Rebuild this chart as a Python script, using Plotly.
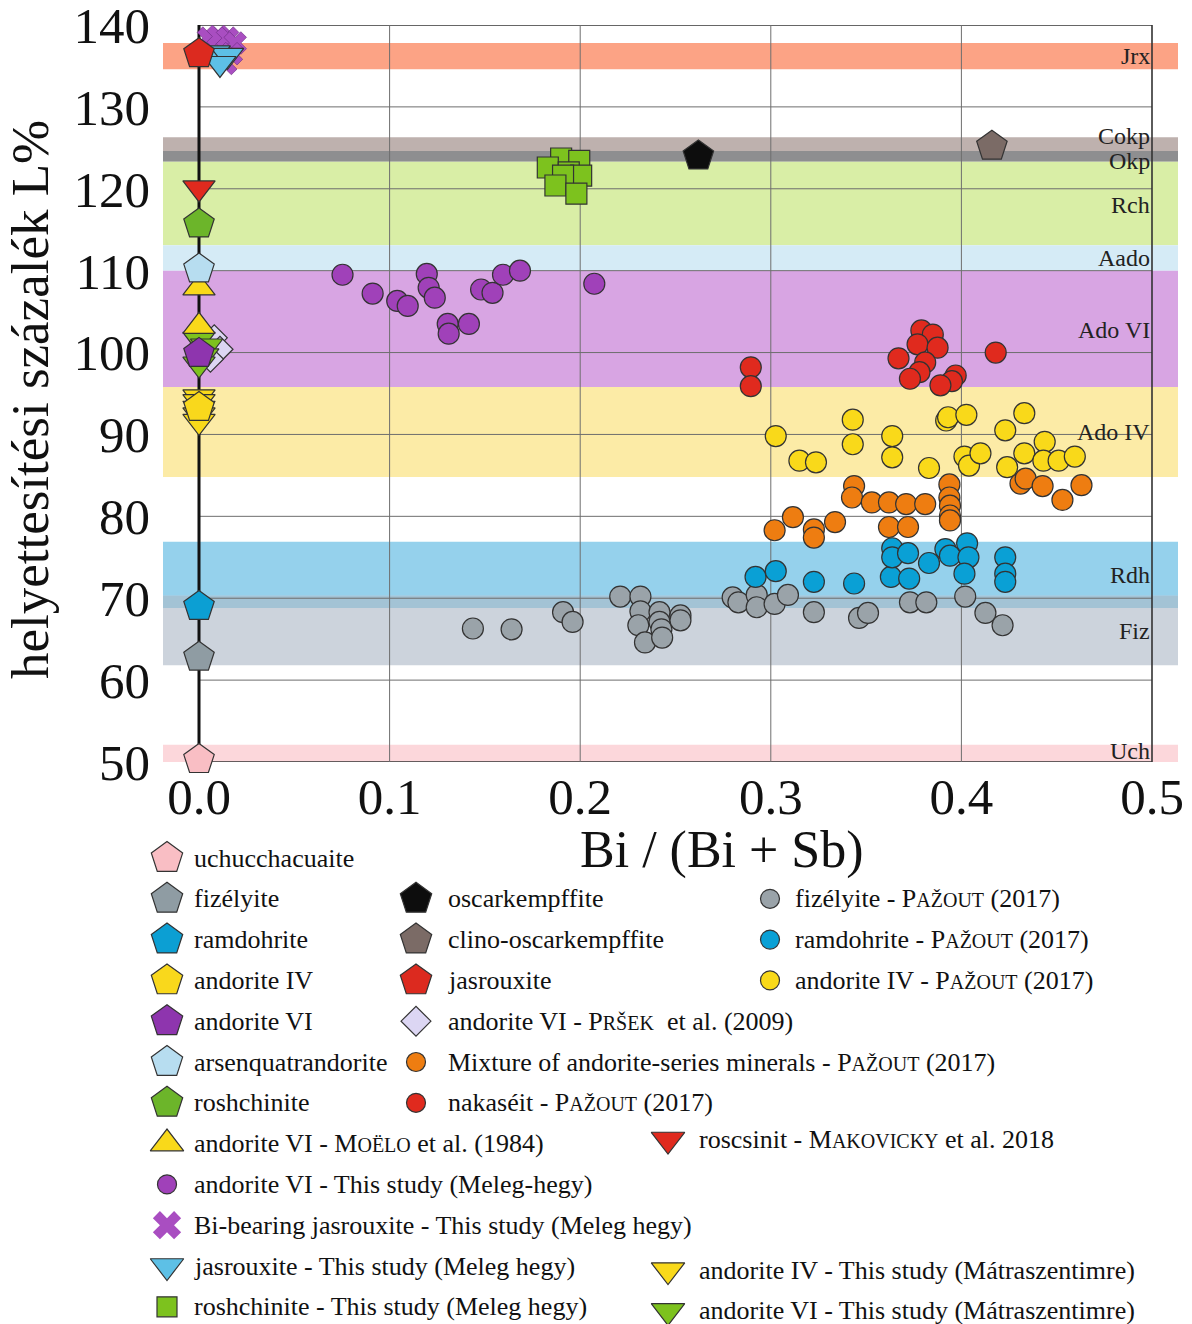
import plotly.graph_objects as go

FONT = "Liberation Serif"
W, H = 1192, 1324

# ---------------- data ----------------
# reference end-members (pentagons)
uch_x, uch_y = [0.0], [50.3]
fiz_x, fiz_y = [0.0], [62.8]
ramd_x, ramd_y = [0.0], [69.0]
and4_x, and4_y = [0.0], [93.3]
and6_x, and6_y = [0.0], [99.9]
arsen_x, arsen_y = [0.0], [110.2]
rosh_x, rosh_y = [0.0], [115.7]
oscar_x, oscar_y = [0.262], [124.0]
clino_x, clino_y = [0.416], [125.2]
jas_x, jas_y = [0.0], [136.5]

# literature / this study
moelo_x = [0.0, 0.0]
moelo_y = [107.9, 103.2]
prsek_x = [0.002, 0.008, 0.011, 0.006]
prsek_y = [101.0, 101.8, 100.4, 99.2]
makov_x = [0.0]
makov_y = [120.1]
mat4_x = [0.0, 0.0, 0.0, 0.0, 0.0]
mat4_y = [94.6, 94.0, 93.2, 92.4, 91.6]
mat6_x = [0.0, 0.004, 0.002, 0.0]
mat6_y = [101.6, 100.8, 99.6, 98.6]
jasts_x = [0.008, 0.012, 0.015, 0.011]
jasts_y = [136.6, 136.0, 136.3, 135.3]
bijas_x = [0.005, 0.010, 0.015, 0.019, 0.017, 0.014]
bijas_y = [138.4, 138.6, 138.4, 137.8, 136.5, 135.3]
roshts_x = [0.190, 0.1995, 0.183, 0.194, 0.2005, 0.191, 0.187, 0.198]
roshts_y = [123.7, 123.4, 122.6, 122.0, 121.6, 121.6, 120.4, 119.4]
and6ts_x = [0.0753, 0.0911, 0.104, 0.1095, 0.1195, 0.1205, 0.1237, 0.1305,
            0.131, 0.1416, 0.148, 0.154, 0.1595, 0.1684, 0.2074]
and6ts_y = [109.5, 107.2, 106.3, 105.7, 109.6, 107.9, 106.7, 103.5,
            102.3, 103.5, 107.7, 107.3, 109.5, 110.0, 108.4]

# PAŽOUT (2017)
pfiz_x = [0.1437, 0.164, 0.191, 0.196, 0.221, 0.2316, 0.2316, 0.2305, 0.234,
          0.2416, 0.2416, 0.2426, 0.243, 0.2526, 0.2526, 0.280, 0.283, 0.2926,
          0.2926, 0.302, 0.309, 0.3226, 0.3463, 0.351, 0.373, 0.3816, 0.402,
          0.4126, 0.4216]
pfiz_y = [66.3, 66.2, 68.3, 67.1, 70.2, 70.2, 68.4, 66.7, 64.6,
          68.3, 67.1, 66.2, 65.2, 67.9, 67.3, 70.1, 69.5, 70.4,
          68.9, 69.3, 70.4, 68.3, 67.6, 68.2, 69.5, 69.5, 70.2,
          68.2, 66.7]
pramd_x = [0.292, 0.3026, 0.3226, 0.3437, 0.363, 0.3726, 0.3637, 0.3637, 0.372,
           0.383, 0.3916, 0.394, 0.403, 0.4037, 0.4016, 0.423, 0.423, 0.423]
pramd_y = [72.6, 73.3, 72.0, 71.8, 72.6, 72.4, 76.1, 75.0, 75.5,
           74.3, 76.0, 75.2, 76.7, 75.0, 73.0, 75.0, 73.0, 72.0]
pand4_x = [0.3026, 0.315, 0.3237, 0.343, 0.343, 0.3637, 0.3637, 0.383, 0.392,
           0.393, 0.4026, 0.4016, 0.404, 0.410, 0.423, 0.433, 0.424, 0.433,
           0.4437, 0.443, 0.451, 0.4595]
pand4_y = [89.8, 86.8, 86.6, 91.8, 88.8, 89.8, 87.2, 85.9, 91.7,
           92.1, 92.4, 87.3, 86.2, 87.7, 90.5, 92.6, 86.0, 87.7,
           89.1, 86.8, 86.8, 87.3]
pmix_x = [0.302, 0.3116, 0.3226, 0.3226, 0.3337, 0.3437, 0.3426, 0.353, 0.362,
          0.371, 0.381, 0.362, 0.372, 0.3937, 0.3937, 0.394, 0.394, 0.394,
          0.431, 0.4337, 0.4426, 0.453, 0.463]
pmix_y = [78.3, 79.9, 78.4, 77.4, 79.3, 83.7, 82.3, 81.7, 81.7,
          81.5, 81.5, 78.7, 78.7, 83.9, 82.3, 81.3, 80.1, 79.5,
          84.0, 84.6, 83.7, 82.0, 83.8]
pnak_x = [0.2895, 0.2895, 0.367, 0.379, 0.385, 0.377, 0.3875, 0.381, 0.378,
          0.373, 0.397, 0.395, 0.389, 0.418]
pnak_y = [98.2, 95.9, 99.3, 102.7, 102.2, 101.0, 100.6, 98.8, 97.6,
          96.8, 97.2, 96.5, 96.0, 100.0]

# bands: name, low, high, label y
band_names = ["Jrx", "Cokp", "Okp", "Rch", "Aado", "Ado VI", "Ado IV", "Rdh", "Fiz", "Uch"]
band_lo = [134.6, 124.6, 123.3, 113.1, 110.0, 95.8, 84.8, 68.8, 61.8, 50.0]
band_hi = [137.8, 126.3, 124.6, 123.3, 113.1, 110.0, 95.8, 76.9, 70.3, 52.1]
band_label_y = [136.2, 126.4, 123.4, 118.0, 111.5, 102.8, 90.3, 72.8, 66.0, 51.3]
overlap_lo, overlap_hi = 68.8, 70.3

x_ticks = [0.0, 0.1, 0.2, 0.3, 0.4, 0.5]
x_tick_text = ["0.0", "0.1", "0.2", "0.3", "0.4", "0.5"]
y_ticks = [50, 60, 70, 80, 90, 100, 110, 120, 130, 140]

# ---------------- styles ----------------
band_colors = ["#FCA385", "#BEB1AE", "#8E8E90", "#D9EEA6", "#D5EBF6",
               "#D8A5E3", "#FCEBA6", "#95D1EC", "#CCD3DC", "#FCD7DB"]
overlap_color = "#A3C3D5"

OUT = "#333333"
series = [
    # key, x, y, symbol, color, size, label
    ("pfiz", pfiz_x, pfiz_y, "circle", "#9AA3A9", 21, "fizélyite - P<span style='font-size:20px'>AŽOUT</span> (2017)"),
    ("pramd", pramd_x, pramd_y, "circle", "#0AA0D5", 21, "ramdohrite - P<span style='font-size:20px'>AŽOUT</span> (2017)"),
    ("pand4", pand4_x, pand4_y, "circle", "#F9D91A", 21, "andorite IV - P<span style='font-size:20px'>AŽOUT</span> (2017)"),
    ("pmix", pmix_x, pmix_y, "circle", "#EE7D11", 21, "Mixture of andorite-series minerals - P<span style='font-size:20px'>AŽOUT</span> (2017)"),
    ("pnak", pnak_x, pnak_y, "circle", "#E02A1E", 21, "nakaséit - P<span style='font-size:20px'>AŽOUT</span> (2017)"),
    ("and6ts", and6ts_x, and6ts_y, "circle", "#A041B9", 21, "andorite VI - This study (Meleg-hegy)"),
    ("roshts", roshts_x, roshts_y, "square", "#7DC21E", 21, "roshchinite - This study (Meleg hegy)"),
    ("prsek", prsek_x, prsek_y, "diamond", "#DCD6F3", 20, "andorite VI - P<span style='font-size:20px'>RŠEK</span>  et al. (2009)"),
    ("mat6", mat6_x, mat6_y, "triangle-down", "#7DC21E", 28, "andorite VI - This study (Mátraszentimre)"),
    ("mat4", mat4_x, mat4_y, "triangle-down", "#F9D91A", 28, "andorite IV - This study (Mátraszentimre)"),
    ("bijas", bijas_x, bijas_y, "x", "#A94EC1", 20, "Bi-bearing jasrouxite - This study (Meleg hegy)"),
    ("jasts", jasts_x, jasts_y, "triangle-down", "#5DC0E6", 28, "jasrouxite - This study (Meleg hegy)"),
    ("moelo", moelo_x, moelo_y, "triangle-up", "#F9D91A", 28, "andorite VI - M<span style='font-size:20px'>OËLO</span> et al. (1984)"),
    ("makov", makov_x, makov_y, "triangle-down", "#E02A1E", 28, "roscsinit - M<span style='font-size:20px'>AKOVICKY</span> et al. 2018"),
    ("uch", uch_x, uch_y, "pentagon", "#F9BEC4", 32, "uchucchacuaite"),
    ("fiz", fiz_x, fiz_y, "pentagon", "#8F9CA3", 32, "fizélyite"),
    ("ramd", ramd_x, ramd_y, "pentagon", "#0C9FD3", 32, "ramdohrite"),
    ("and4", and4_x, and4_y, "pentagon", "#F9D81C", 32, "andorite IV"),
    ("and6", and6_x, and6_y, "pentagon", "#8E35AE", 32, "andorite VI"),
    ("arsen", arsen_x, arsen_y, "pentagon", "#B7DDF0", 32, "arsenquatrandorite"),
    ("rosh", rosh_x, rosh_y, "pentagon", "#6CB52A", 32, "roshchinite"),
    ("oscar", oscar_x, oscar_y, "pentagon", "#0D0D0D", 32, "oscarkempffite"),
    ("clino", clino_x, clino_y, "pentagon", "#7B6B66", 32, "clino-oscarkempffite"),
    ("jas", jas_x, jas_y, "pentagon", "#DC2A1F", 32, "jasrouxite"),
]

# legend layout: key -> (column, row)
col_marker_x = {1: 167, 2: 416, 3: 770, 4: 668}
col_text_x = {1: 192, 2: 446, 3: 793, 4: 697}
row0_y, row_step = 858, 40.8
legend_layout = {
    "uch": (1, 0), "fiz": (1, 1), "ramd": (1, 2), "and4": (1, 3), "and6": (1, 4),
    "arsen": (1, 5), "rosh": (1, 6), "moelo": (1, 7), "and6ts": (1, 8),
    "bijas": (1, 9), "jasts": (1, 10), "roshts": (1, 11),
    "oscar": (2, 1), "clino": (2, 2), "jas": (2, 3), "prsek": (2, 4),
    "pmix": (2, 5), "pnak": (2, 6),
    "pfiz": (3, 1), "pramd": (3, 2), "pand4": (3, 3),
    "makov": (4, 6.9), "mat4": (4, 10.1), "mat6": (4, 11.1),
}
legend_size = {"pentagon": 33, "circle": 19, "square": 20, "triangle-up": 29,
               "triangle-down": 29, "diamond": 23, "x": 25}

# ---------------- figure ----------------
x_lo = -(199 - 163) / 1906
x_hi = 0.5 + (1178 - 1152) / 1906

fig = go.Figure()

for key, xs, ys, sym, col, size, label in series:
    line = dict(color=OUT, width=1.2)
    if sym == "x":
        line = dict(color="#6A2A80", width=0.6)
    fig.add_trace(go.Scatter(
        x=xs, y=ys, mode="markers", showlegend=False, cliponaxis=False,
        marker=dict(symbol=sym, color=col, size=size, line=line),
        xaxis="x", yaxis="y", name=key))

# legend drawn manually
annotations = []
for key, xs, ys, sym, col, size, label in series:
    c, r = legend_layout[key]
    ly = row0_y + row_step * r
    line = dict(color=OUT, width=1.2)
    if sym == "x":
        line = dict(color="#A94EC1", width=0)
    fig.add_trace(go.Scatter(
        x=[col_marker_x[c]], y=[ly], mode="markers", showlegend=False,
        cliponaxis=False, hoverinfo="skip",
        marker=dict(symbol=sym, color=col, size=legend_size[sym], line=line),
        xaxis="x2", yaxis="y2"))
    annotations.append(dict(
        x=col_text_x[c], y=ly, xref="x2", yref="y2", text=label,
        showarrow=False, xanchor="left", yanchor="middle",
        font=dict(family=FONT, size=26, color="#111")))

shapes = []
for name, lo, hi, colr in zip(band_names, band_lo, band_hi, band_colors):
    shapes.append(dict(type="rect", xref="x domain", yref="y", x0=0, x1=1,
                       y0=lo, y1=hi, fillcolor=colr, line=dict(width=0),
                       layer="below"))
shapes.append(dict(type="rect", xref="x domain", yref="y", x0=0, x1=1,
                   y0=overlap_lo, y1=overlap_hi, fillcolor=overlap_color,
                   line=dict(width=0), layer="below"))
# grid
for yv in y_ticks:
    edge = yv in (y_ticks[0], y_ticks[-1])
    shapes.append(dict(type="line", xref="x", yref="y", x0=0, x1=0.5, y0=yv, y1=yv,
                       line=dict(color="#333" if edge else "#6E6E6E", width=1.6 if edge else 1),
                       layer="below"))
for xv in x_ticks[1:]:
    edge = xv == x_ticks[-1]
    shapes.append(dict(type="line", xref="x", yref="y", x0=xv, x1=xv, y0=50, y1=140,
                       line=dict(color="#333" if edge else "#6E6E6E", width=1.6 if edge else 1),
                       layer="below"))
shapes.append(dict(type="line", xref="x", yref="y", x0=0, x1=0, y0=50, y1=140,
                   line=dict(color="#111", width=3), layer="below"))

for name, ly in zip(band_names, band_label_y):
    annotations.append(dict(x=0.5, y=ly, xref="x", yref="y", text=name,
                            showarrow=False, xanchor="right", yanchor="middle",
                            font=dict(family=FONT, size=24, color="#222")))

annotations.append(dict(x=30 / W, y=1 - 400 / H, xref="paper", yref="paper",
                        text="helyettesítési százalék L%", textangle=-90,
                        showarrow=False, xanchor="center", yanchor="middle",
                        font=dict(family=FONT, size=53, color="#111")))
annotations.append(dict(x=722 / W, y=1 - 850 / H, xref="paper", yref="paper",
                        text="Bi / (Bi + Sb)", showarrow=False,
                        xanchor="center", yanchor="middle",
                        font=dict(family=FONT, size=52, color="#111")))

fig.update_layout(
    width=W, height=H,
    margin=dict(l=0, r=0, t=0, b=0, autoexpand=False),
    paper_bgcolor="white", plot_bgcolor="rgba(0,0,0,0)",
    showlegend=False,
    xaxis=dict(domain=[163 / W, 1178 / W], range=[x_lo, x_hi], tickvals=x_ticks,
               ticktext=x_tick_text, showgrid=False, zeroline=False, showline=False,
               ticks="", ticklabeloverflow="allow",
               tickfont=dict(family=FONT, size=51, color="#111"),
               anchor="y", fixedrange=True, automargin=False),
    yaxis=dict(domain=[1 - 762 / H, 1 - 25 / H], range=[50, 140], tickvals=y_ticks,
               showgrid=False, zeroline=False, showline=False, ticks="",
               ticklabelstandoff=12, ticklabeloverflow="allow",
               tickfont=dict(family=FONT, size=51, color="#111"),
               anchor="x", fixedrange=True, automargin=False),
    xaxis2=dict(domain=[0, 1], range=[0, W], visible=False, anchor="y2", fixedrange=True),
    yaxis2=dict(domain=[0, 1], range=[H, 0], visible=False, anchor="x2", fixedrange=True),
    shapes=shapes,
    annotations=annotations,
)

fig.write_html("out.html", config={"displayModeBar": False},
               post_script="document.body.style.margin='0px';document.body.style.overflow='hidden';")
